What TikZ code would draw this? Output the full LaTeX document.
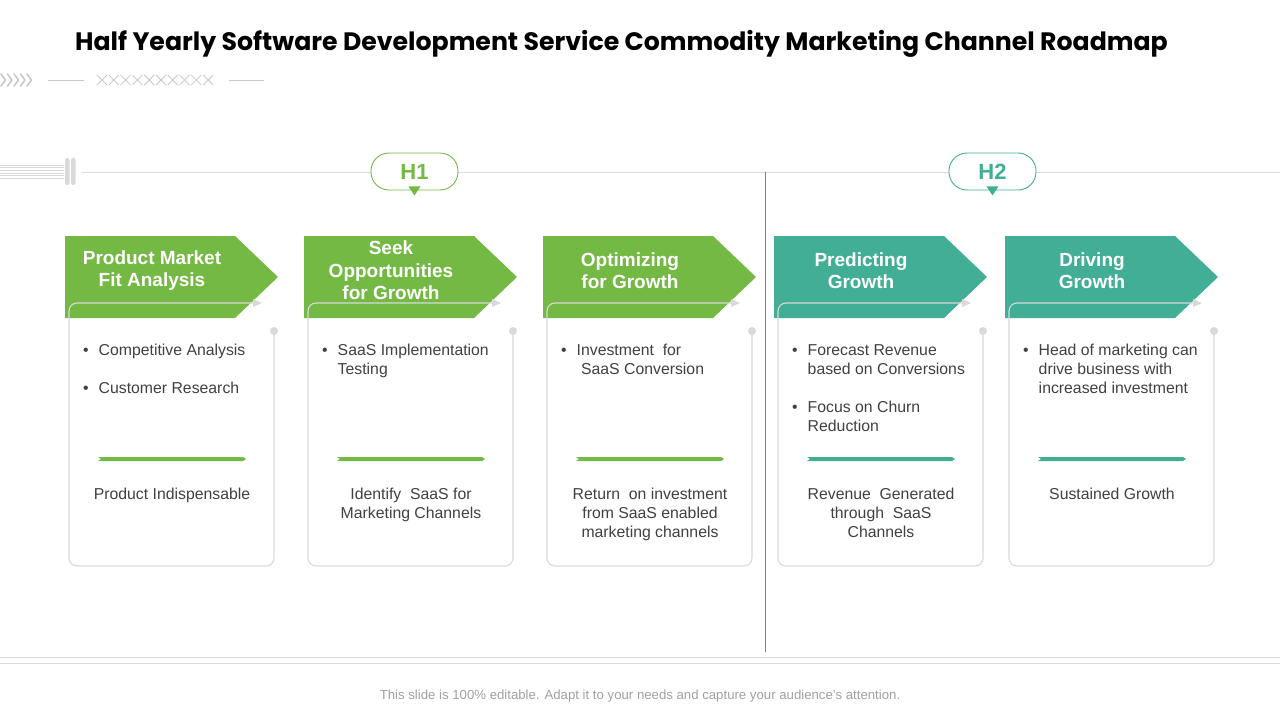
\documentclass[tikz,border=0pt]{standalone}
\usepackage{fontspec}
\setmainfont{Liberation Sans}
\newfontfamily\titlefont{Poppins}
\usetikzlibrary{positioning}
\definecolor{grn}{HTML}{74B944}
\definecolor{sea}{HTML}{41AE95}
\definecolor{lgray}{HTML}{D9D9D9}
\definecolor{orn}{HTML}{C8C8C8}
\definecolor{txt}{HTML}{404040}
\definecolor{sepc}{HTML}{7F7F7F}
\definecolor{note}{HTML}{A0A0A0}
\tikzset{
  head/.style={font=\fontsize{19}{22.5}\selectfont\bfseries,text=white,align=center,inner sep=0pt},
  bodytext/.style={font=\fontsize{15.8}{19}\selectfont,text=txt,anchor=base west,inner sep=0pt},
  foottext/.style={font=\fontsize{15.8}{19}\selectfont,text=txt,anchor=base,inner sep=0pt},
  cardline/.style={draw=lgray,line width=1.1pt},
  pill/.style={draw,line width=0.9pt,rounded corners=18pt,fill=white,minimum width=87pt,minimum height=37pt,
    font=\fontsize{22}{24}\selectfont\bfseries}
}
\begin{document}
\begin{tikzpicture}[x=1pt,y=-1pt,line join=round,line cap=round,>=stealth]
\useasboundingbox (0,0) rectangle (1280,720);
% title
\node[anchor=west,inner sep=0pt,font=\titlefont\bfseries\fontsize{25.2}{30}\selectfont] (title) at (75,44)
  {Half Yearly Software Development Service Commodity Marketing Channel Roadmap};
% ornament under the title
\foreach \k in {0,...,4}
  \draw[orn,line width=1.6pt] (1+6.5*\k,74) -- (5.5+6.5*\k,80) -- (1+6.5*\k,86);
\draw[orn] (48,80) -- (84,80) (229,80) -- (264,80);
\foreach \k in {0,...,9}
  \draw[orn,line width=0.8pt] (97+11.8*\k,75) -- ++(10,10) (97+11.8*\k,85) -- ++(10,-10);
% time line
\foreach \k in {0,...,5}
  \draw[lgray,line width=0.6pt] (0,165+2.6*\k) -- (64,165+2.6*\k);
\fill[lgray,rounded corners=2pt] (65,158) rectangle (69.5,185) (71,158) rectangle (75.5,185);
\draw[lgray] (82,172) coordinate (L) -- (1280,172) coordinate (R);
\path (765,172) coordinate (S) (765,652) coordinate (T);
\draw[sepc,line width=0.8pt] (S) -- (T);
% half year marks
\node[pill,draw=grn,text=grn] (h1) at (414.5,171.5) {H1};
\fill[grn] ([xshift=-6pt,yshift=4pt]h1.south) -- ([xshift=6pt,yshift=4pt]h1.south)
  -- ([yshift=-5pt]h1.south) -- cycle;
\node[pill,draw=sea,text=sea] (h2) at (992.5,171.5) {H2};
\fill[sea] ([xshift=-6pt,yshift=4pt]h2.south) -- ([xshift=6pt,yshift=4pt]h2.south)
  -- ([yshift=-5pt]h2.south) -- cycle;
% cards
\foreach \x/\col/\hd/\bd/\ft [count=\i] in {
  65/grn/{Product Market\\Fit Analysis}/{\textbullet & Competitive Analysis\\[19pt] \textbullet & Customer Research}/{Product Indispensable},
  304/grn/{Seek\\Opportunities\\for Growth}/{\textbullet & SaaS Implementation\\ & Testing}/{Identify\ \ SaaS for\\Marketing Channels},
  543/grn/{Optimizing\\for Growth}/{\textbullet & Investment\ \ for\\ & \ SaaS Conversion}/{Return\ \ on investment\\from SaaS enabled\\marketing channels},
  774/sea/{Predicting\\Growth}/{\textbullet & Forecast Revenue\\ & based on Conversions\\[19pt] \textbullet & Focus on Churn\\ & Reduction}/{Revenue\ \ Generated\\through\ \ SaaS\\Channels},
  1005/sea/{Driving\\Growth}/{\textbullet & Head of marketing can\\ & drive business with\\ & increased investment}/{Sustained Growth}}{
  \fill[\col] (\x,236) -- ++(170,0) -- ++(43,41) -- ++(-43,41) -- ++(-170,0) -- cycle;
  \node[head] (hd\i) at (\x+87,270.5) {\hd};
  \draw[cardline,rounded corners=8pt] (\x+189,303) -- (\x+4,303) -- (\x+4,566)
    -- (\x+209,566) -- (\x+209,331);
  \fill[lgray] (\x+188,299) -- (\x+197,303) -- (\x+188,307) -- cycle;
  \fill[lgray] (\x+209,331) circle (4);
  \node[bodytext] (bd\i) at (\x+18,355)
    {\begin{tabular}[t]{@{}l@{\hspace{10pt}}l@{}}\bd\end{tabular}};
  \fill[\col] (\x+33,457) -- (\x+178,457) -- (\x+181,459) -- (\x+178,461)
    -- (\x+33,461) -- (\x+36,459) -- cycle;
  \node[foottext] (ft\i) at (\x+107,499)
    {\begin{tabular}[t]{@{}c@{}}\ft\end{tabular}};
}
% bottom
\draw[lgray] (0,657) -- (1280,657) (0,663) -- (1280,663);
\node[font=\fontsize{13.2}{15}\selectfont,text=note] (note) at (640,696)
  {This slide is 100\% editable. Adapt it to your needs and capture your audience’s attention.};
\end{tikzpicture}
\end{document}
